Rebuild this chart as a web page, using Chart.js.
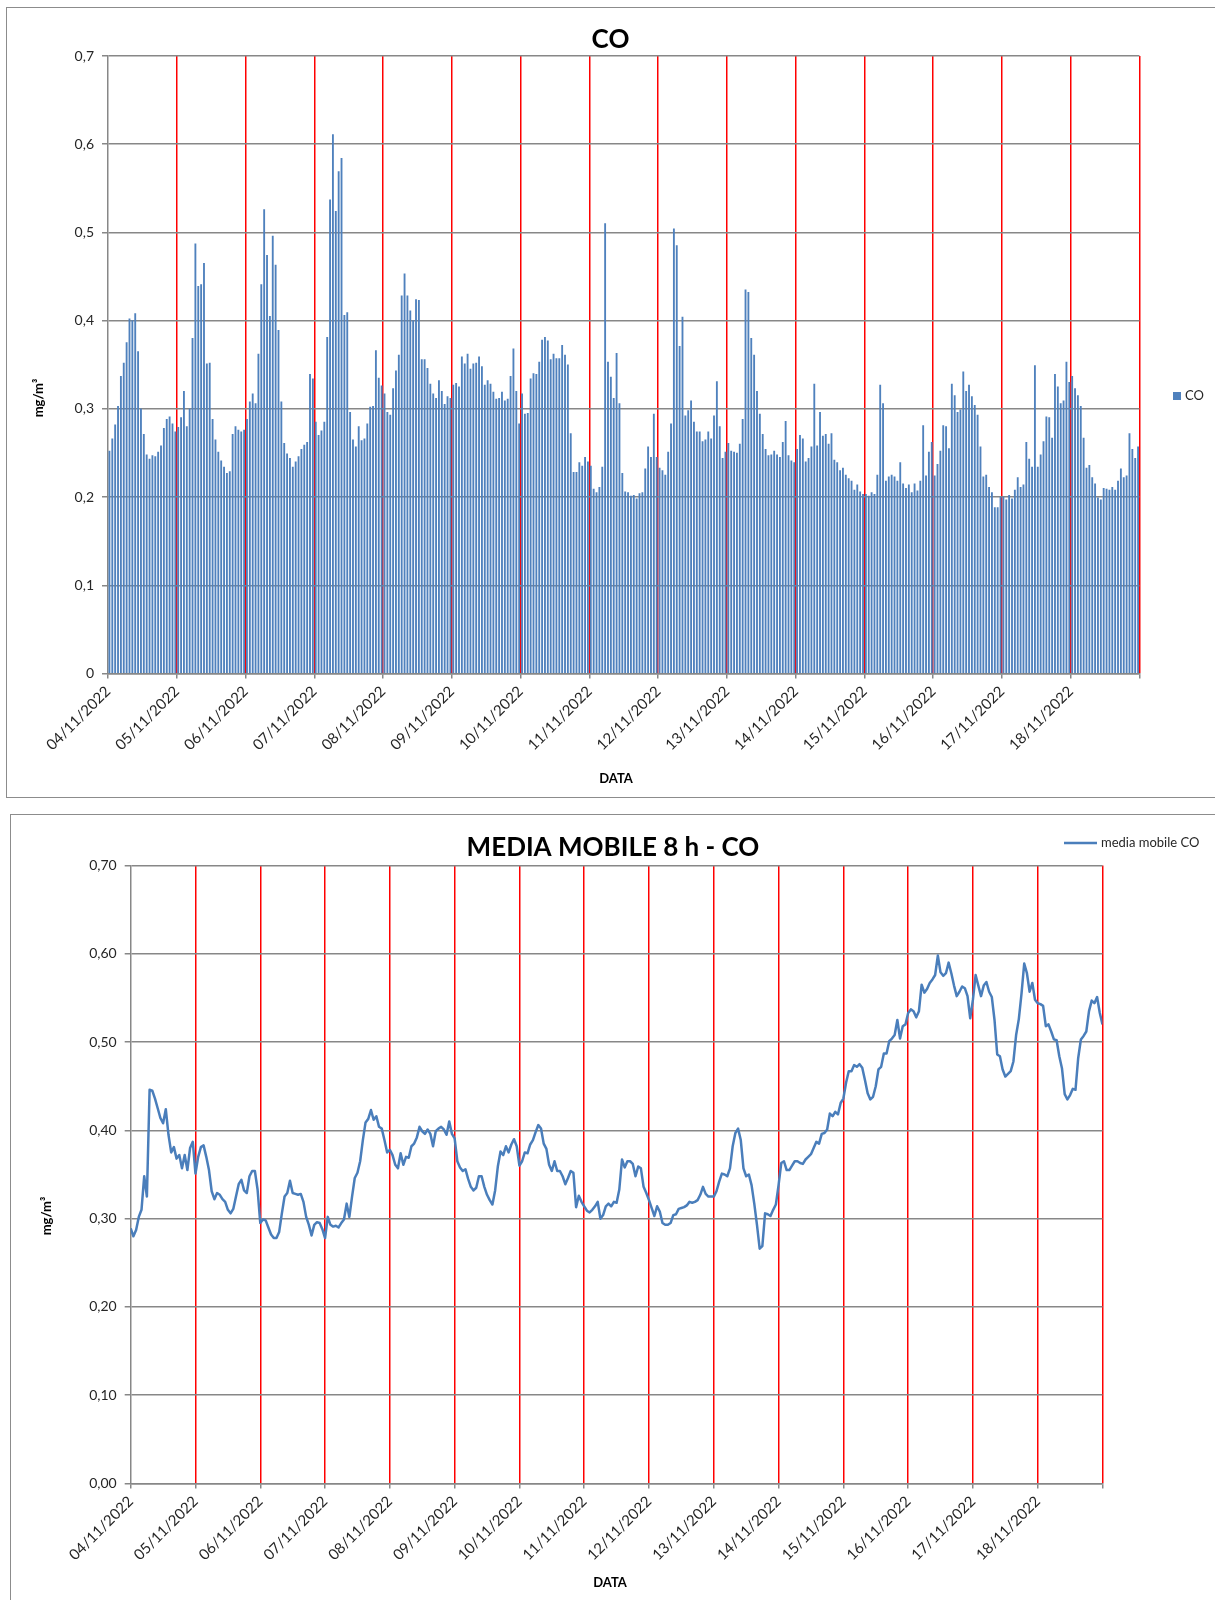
<!DOCTYPE html>
<html>
<head>
<meta charset="utf-8">
<script src="https://cdn.jsdelivr.net/npm/chart.js@4.4.0/dist/chart.umd.min.js"></script>
<style>
  body { margin: 0; background: #fff; width: 1215px; height: 1600px; overflow: hidden; position: relative; }
  .box { position: absolute; border: 1px solid #8c8c8c; background: #fff; }
  #box1 { left: 6px; top: 7px; width: 1215px; height: 789px; }
  #box2 { left: 10px; top: 814px; width: 1215px; height: 800px; }
  canvas { position: absolute; left: 0; top: 0; }
</style>
</head>
<body>
<div class="box" id="box1"><canvas id="c1" width="1207" height="789"></canvas></div>
<div class="box" id="box2"><canvas id="c2" width="1204" height="785"></canvas></div>
<script>
const dayLabels = ['04/11/2022', '05/11/2022', '06/11/2022', '07/11/2022', '08/11/2022',
  '09/11/2022', '10/11/2022', '11/11/2022', '12/11/2022', '13/11/2022',
  '14/11/2022', '15/11/2022', '16/11/2022', '17/11/2022', '18/11/2022'];

// CO hourly values, mg/m3 (24 per day)
const coHourly = [
  0.252,0.266,0.282,0.303,0.337,0.352,0.375,0.402,0.400,0.408,0.365,0.300,0.271,0.248,0.243,0.247,0.246,0.251,0.258,0.278,0.288,0.291,0.283,0.274,
  0.279,0.290,0.320,0.280,0.300,0.380,0.487,0.439,0.441,0.465,0.351,0.352,0.288,0.265,0.251,0.241,0.234,0.227,0.229,0.271,0.280,0.276,0.274,0.276,
  0.288,0.308,0.317,0.306,0.362,0.441,0.526,0.474,0.405,0.496,0.463,0.389,0.308,0.261,0.249,0.244,0.234,0.240,0.246,0.254,0.259,0.262,0.339,0.334,
  0.285,0.270,0.275,0.285,0.381,0.537,0.611,0.524,0.569,0.584,0.406,0.409,0.296,0.265,0.257,0.280,0.264,0.266,0.283,0.302,0.303,0.366,0.335,0.326,
  0.317,0.296,0.293,0.323,0.343,0.361,0.428,0.453,0.428,0.411,0.400,0.424,0.423,0.356,0.356,0.346,0.328,0.317,0.312,0.332,0.320,0.305,0.314,0.312,
  0.327,0.329,0.325,0.359,0.351,0.362,0.345,0.351,0.352,0.359,0.348,0.327,0.332,0.328,0.319,0.311,0.312,0.319,0.309,0.311,0.337,0.368,0.320,0.283,
  0.317,0.294,0.295,0.334,0.340,0.339,0.353,0.378,0.381,0.377,0.356,0.362,0.357,0.357,0.372,0.361,0.350,0.272,0.228,0.228,0.239,0.235,0.245,0.240,
  0.235,0.209,0.205,0.211,0.234,0.510,0.353,0.336,0.312,0.363,0.306,0.227,0.206,0.205,0.201,0.202,0.198,0.204,0.205,0.232,0.257,0.245,0.294,0.245,
  0.233,0.230,0.225,0.251,0.283,0.504,0.485,0.371,0.404,0.292,0.298,0.309,0.285,0.274,0.274,0.263,0.265,0.274,0.266,0.292,0.331,0.280,0.244,0.251,
  0.261,0.252,0.251,0.250,0.260,0.288,0.435,0.432,0.380,0.361,0.320,0.294,0.271,0.254,0.247,0.248,0.252,0.248,0.245,0.262,0.286,0.247,0.241,0.239,
  0.254,0.270,0.266,0.240,0.244,0.257,0.328,0.258,0.296,0.269,0.271,0.260,0.272,0.242,0.239,0.230,0.233,0.225,0.221,0.218,0.208,0.214,0.206,0.203,
  0.203,0.201,0.205,0.203,0.225,0.327,0.306,0.218,0.223,0.225,0.223,0.218,0.239,0.215,0.210,0.214,0.205,0.215,0.207,0.218,0.281,0.224,0.251,0.262,
  0.224,0.237,0.252,0.281,0.280,0.255,0.328,0.315,0.296,0.299,0.342,0.320,0.327,0.314,0.304,0.293,0.257,0.223,0.225,0.211,0.205,0.188,0.188,0.200,
  0.200,0.197,0.202,0.198,0.208,0.222,0.211,0.214,0.262,0.243,0.234,0.349,0.234,0.248,0.263,0.291,0.290,0.267,0.339,0.325,0.306,0.309,0.353,0.330,
  0.337,0.323,0.315,0.303,0.267,0.233,0.236,0.222,0.215,0.199,0.197,0.210,0.209,0.208,0.211,0.208,0.218,0.232,0.222,0.224,0.272,0.254,0.244,0.257
];

// 8 h moving average, mg/m3 (hourly, last point = 19/11 00:00)
const mediaMobile = [
  0.289,0.280,0.287,0.302,0.310,0.348,0.325,0.446,0.445,0.436,0.425,0.414,0.408,0.424,0.395,0.375,0.381,0.368,0.372,0.357,0.372,0.355,0.380,0.387,
  0.351,0.370,0.381,0.383,0.370,0.355,0.331,0.322,0.329,0.327,0.322,0.319,0.310,0.306,0.311,0.325,0.339,0.344,0.332,0.329,0.348,0.354,0.354,0.333,
  0.295,0.299,0.298,0.290,0.282,0.278,0.278,0.285,0.306,0.325,0.329,0.343,0.329,0.328,0.327,0.328,0.319,0.302,0.293,0.281,0.293,0.296,0.295,0.288,
  0.278,0.302,0.293,0.291,0.292,0.290,0.295,0.299,0.317,0.302,0.325,0.346,0.352,0.365,0.389,0.409,0.413,0.423,0.412,0.416,0.404,0.402,0.389,0.375,
  0.378,0.372,0.361,0.357,0.374,0.361,0.370,0.369,0.382,0.385,0.392,0.404,0.399,0.396,0.401,0.396,0.382,0.399,0.402,0.404,0.401,0.395,0.410,0.396,
  0.391,0.365,0.358,0.354,0.356,0.345,0.336,0.332,0.335,0.348,0.348,0.336,0.327,0.321,0.316,0.332,0.359,0.376,0.372,0.382,0.375,0.384,0.390,0.382,
  0.360,0.365,0.375,0.374,0.384,0.389,0.398,0.406,0.402,0.385,0.379,0.361,0.354,0.365,0.354,0.354,0.348,0.339,0.346,0.354,0.352,0.313,0.326,0.319,
  0.314,0.309,0.307,0.310,0.314,0.319,0.300,0.304,0.314,0.317,0.314,0.319,0.318,0.333,0.367,0.358,0.365,0.365,0.362,0.348,0.359,0.357,0.336,0.329,
  0.321,0.312,0.303,0.314,0.308,0.295,0.293,0.293,0.295,0.304,0.305,0.311,0.312,0.313,0.315,0.319,0.318,0.319,0.321,0.327,0.336,0.328,0.325,0.325,
  0.325,0.331,0.342,0.351,0.350,0.348,0.357,0.382,0.397,0.402,0.389,0.357,0.348,0.350,0.338,0.317,0.293,0.266,0.269,0.306,0.305,0.303,0.310,0.316,
  0.338,0.363,0.365,0.355,0.355,0.360,0.365,0.365,0.363,0.362,0.367,0.370,0.373,0.380,0.387,0.385,0.396,0.397,0.401,0.419,0.416,0.421,0.418,0.431,
  0.436,0.454,0.467,0.467,0.474,0.472,0.475,0.471,0.457,0.442,0.435,0.438,0.450,0.469,0.472,0.487,0.487,0.501,0.504,0.508,0.525,0.504,0.518,0.520,
  0.533,0.537,0.535,0.528,0.535,0.565,0.556,0.560,0.567,0.571,0.576,0.598,0.579,0.575,0.578,0.590,0.578,0.564,0.552,0.557,0.563,0.561,0.552,0.527,
  0.548,0.576,0.564,0.552,0.564,0.568,0.557,0.551,0.525,0.486,0.484,0.469,0.461,0.464,0.467,0.478,0.508,0.526,0.555,0.589,0.578,0.557,0.567,0.548,
  0.544,0.543,0.541,0.518,0.520,0.512,0.503,0.502,0.484,0.470,0.441,0.435,0.440,0.447,0.446,0.482,0.503,0.507,0.512,0.535,0.547,0.544,0.551,0.533,
  0.520
];

const GRAY = '#878787';
const RED = '#ff0000';
const TXT = '#262626';

// axis titles + legend, placed like the Excel original
const extras = {
  id: 'extras',
  afterDraw(chart, args, o) {
    const ctx = chart.ctx;
    const ds = chart.data.datasets[0];
    ctx.save();
    ctx.fillStyle = '#000';
    ctx.font = 'bold 13px Lato';
    ctx.textAlign = 'center';
    ctx.textBaseline = 'middle';
    ctx.fillText('DATA', o.xTitle[0], o.xTitle[1]);
    ctx.translate(o.yTitle[0], o.yTitle[1]);
    ctx.rotate(-Math.PI / 2);
    ctx.fillText('mg/m³', 0, 0);
    ctx.restore();

    ctx.save();
    ctx.font = '13px Lato';
    ctx.textBaseline = 'middle';
    const lx = o.legend[0], ly = o.legend[1];
    if (chart.config.type === 'bar') {
      ctx.fillStyle = ds.backgroundColor;
      ctx.fillRect(lx, ly - 4, 8, 8);
      ctx.fillStyle = TXT;
      ctx.fillText(ds.label, lx + 12, ly);
    } else {
      ctx.strokeStyle = ds.borderColor;
      ctx.lineWidth = 2.5;
      ctx.beginPath();
      ctx.moveTo(lx, ly);
      ctx.lineTo(lx + 33, ly);
      ctx.stroke();
      ctx.fillStyle = TXT;
      ctx.fillText(ds.label, lx + 37, ly);
    }
    ctx.restore();
  }
};

function xAxis(height) {
  return {
    type: 'linear', min: 0, max: 360, offset: false,
    afterFit: s => { s.height = height; },
    grid: {
      offset: false,
      color: ctx => (ctx.tick && ctx.tick.value > 0) ? RED : 'rgba(0,0,0,0)',
      lineWidth: 1.5, tickColor: GRAY, tickLength: 5
    },
    border: { color: GRAY, width: 1.5 },
    ticks: {
      stepSize: 24, autoSkip: false, maxRotation: 45, minRotation: 45, padding: 4,
      color: TXT, font: { family: 'Lato', size: 15 },
      callback: v => dayLabels[v / 24] || ''
    }
  };
}

function yAxis(width, decimals) {
  return {
    min: 0, max: 0.7,
    afterFit: s => { s.width = width; },
    grid: { color: GRAY, lineWidth: 1.5, tickLength: 6 },
    border: { color: GRAY, width: 1.5 },
    ticks: {
      stepSize: 0.1, padding: 8, color: TXT, font: { family: 'Lato', size: 14 },
      callback: v => (decimals === 1 && v === 0) ? '0' : v.toFixed(decimals).replace('.', ',')
    }
  };
}

// empty box on the right, keeps room for the legend while the title stays centred on the canvas
function rightSpace(width) {
  return {
    type: 'linear', position: 'right',
    afterFit: s => { s.width = width; },
    grid: { display: false, drawTicks: false },
    border: { display: false },
    ticks: { display: false }
  };
}

new Chart(document.getElementById('c1'), {
  type: 'bar',
  data: {
    datasets: [{
      label: 'CO',
      data: coHourly.map((v, i) => ({ x: i + 0.5, y: v })),
      backgroundColor: '#4F81BD',
      barThickness: 1.2
    }]
  },
  options: {
    responsive: false,
    animation: false,
    plugins: {
      legend: { display: false },
      tooltip: { enabled: false },
      title: {
        display: true, text: 'CO', color: '#000',
        font: { family: 'Lato', size: 26, weight: 'bold' },
        padding: { top: 16.4, bottom: 0.4 }
      },
      extras: { xTitle: [609, 771], yTitle: [32, 390], legend: [1166, 388] }
    },
    scales: { x: xAxis(123.5), y: yAxis(101, 1), pad: rightSpace(74.5) }
  },
  plugins: [extras]
});

new Chart(document.getElementById('c2'), {
  type: 'line',
  data: {
    datasets: [{
      label: 'media mobile CO',
      data: mediaMobile.map((v, i) => ({ x: i, y: v })),
      borderColor: '#4A7EBB',
      borderWidth: 2.5,
      pointRadius: 0,
      tension: 0,
      borderJoinStyle: 'round'
    }]
  },
  options: {
    responsive: false,
    animation: false,
    plugins: {
      legend: { display: false },
      tooltip: { enabled: false },
      title: {
        display: true, text: 'MEDIA MOBILE 8 h - CO', color: '#000',
        font: { family: 'Lato', size: 26, weight: 'bold' },
        padding: { top: 17.4, bottom: 1.9 }
      },
      extras: { xTitle: [599, 768], yTitle: [36, 401], legend: [1053, 28] }
    },
    scales: { x: xAxis(116.5), y: yAxis(119.7, 2), pad: rightSpace(112.5) }
  },
  plugins: [extras]
});
</script>
</body>
</html>
